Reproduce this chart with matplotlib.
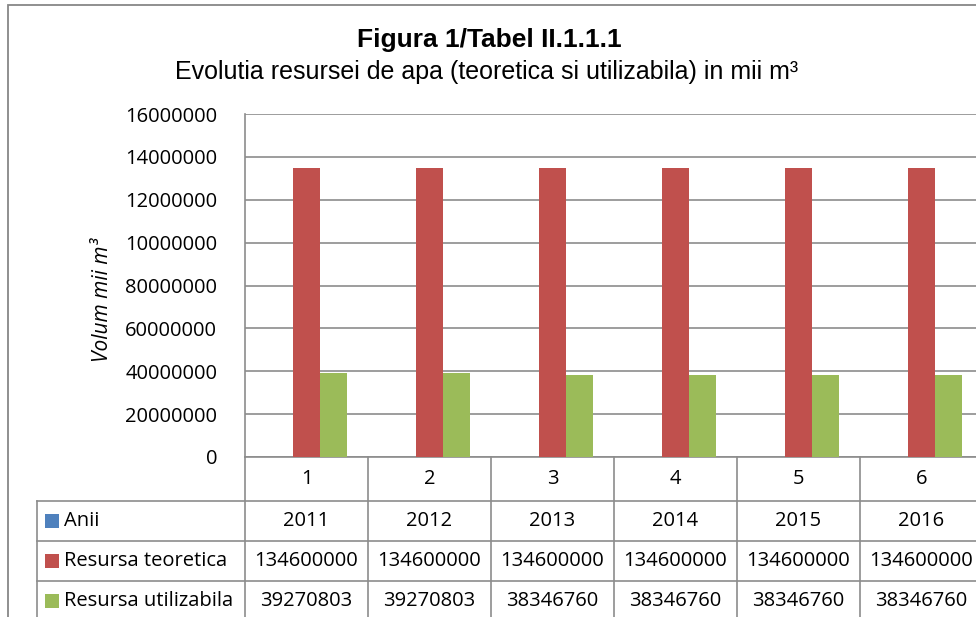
import matplotlib
matplotlib.use("Agg")
import matplotlib.pyplot as plt
import matplotlib.transforms as mtransforms
from matplotlib.lines import Line2D
from matplotlib.patches import Rectangle
import numpy as np

# ---- data ----
categories = ["1", "2", "3", "4", "5", "6"]
series_names = ["Anii", "Resursa teoretica", "Resursa utilizabila"]
anii = [2011, 2012, 2013, 2014, 2015, 2016]
resursa_teoretica = [134600000, 134600000, 134600000, 134600000, 134600000, 134600000]
resursa_utilizabila = [39270803, 39270803, 38346760, 38346760, 38346760, 38346760]
ytick_values = [0, 20000000, 40000000, 60000000, 80000000, 100000000, 120000000, 140000000, 160000000]
ytick_labels = ["0", "20000000", "40000000", "60000000", "80000000", "10000000", "12000000", "14000000", "16000000"]
colors = ["#4F81BD", "#C0504D", "#9BBB59"]

W, H = 976, 617
fig = plt.figure(figsize=(W / 100, H / 100), dpi=100)
fig.patch.set_facecolor("white")

def fx(x):
    return x / W

def fy(y):
    return 1 - y / H

FONT = "Open Sans"
GRID = "#8C8C8C"

# chart border
fig.add_artist(Rectangle((fx(8), fy(700)), fx(1100), fy(5) - fy(700), transform=fig.transFigure,
                         fill=False, edgecolor="#878787", linewidth=1.3))

# axes
left, right, top, bottom = 245, 983, 114, 457
ax = fig.add_axes([fx(left), fy(bottom), fx(right - left), fy(top) - fy(bottom)])
ax.set_xlim(-0.5, len(categories) - 0.5)
ax.set_ylim(0, 160000000)

series = [anii, resursa_teoretica, resursa_utilizabila]
x = np.arange(len(categories))
bw = 0.222
for k, (vals, col) in enumerate(zip(series, colors)):
    ax.bar(x + (k - 1) * bw, vals, width=bw, color=col, edgecolor="none", zorder=3)

ax.set_yticks(ytick_values)
ax.set_yticklabels(ytick_labels, fontfamily=FONT, fontsize=14.5)
ax.tick_params(axis="y", length=0, pad=20)
ax.set_xticks([])
ax.grid(axis="y", color=GRID, linewidth=1.2, zorder=0)
for s in ["top", "right"]:
    ax.spines[s].set_visible(False)
ax.spines["left"].set_color(GRID)
ax.spines["left"].set_linewidth(1.2)
ax.spines["bottom"].set_color(GRID)
ax.spines["bottom"].set_linewidth(1.2)
ax.set_facecolor("white")

# y label
fig.text(fx(102), fy(300), "Volum mii m³", rotation=90, ha="center", va="center",
         fontfamily=FONT, fontsize=15, style="italic")

# titles
fig.text(fx(489), fy(40), "Figura 1/Tabel II.1.1.1", ha="center", va="center",
         fontfamily="Liberation Sans", fontsize=19, fontweight="bold")
fig.text(fx(487), fy(72), "Evolutia resursei de apa (teoretica si utilizabila) in mii m³", ha="center", va="center",
         fontfamily="Liberation Sans", fontsize=18)

# data table
bt = mtransforms.blended_transform_factory(ax.transData, fig.transFigure)
row_edges = [457, 501, 541, 581, 621]

for y in row_edges[1:]:
    fig.add_artist(Line2D([fx(37), fx(right)], [fy(y), fy(y)], transform=fig.transFigure,
                          color=GRID, linewidth=1.2))
fig.add_artist(Line2D([fx(37), fx(37)], [fy(501), fy(640)], transform=fig.transFigure, color=GRID, linewidth=1.2))
for i in range(len(categories) + 1):
    xb = i - 0.5
    fig.add_artist(Line2D([xb, xb], [fy(457), fy(640)], transform=bt, color=GRID, linewidth=1.2, clip_on=False))

# category row
for i, c in enumerate(categories):
    fig.text(i, fy(479), c, transform=bt, ha="center", va="center", fontfamily=FONT, fontsize=14.5)

for r, (name, vals, col) in enumerate(zip(series_names, series, colors)):
    yc = (row_edges[r + 1] + row_edges[r + 2]) / 2
    fig.add_artist(Rectangle((fx(45), fy(yc + 7)), fx(14), fy(yc - 7) - fy(yc + 7), transform=fig.transFigure,
                             facecolor=col, edgecolor="none"))
    fig.text(fx(64), fy(yc), name, ha="left", va="center", fontfamily=FONT, fontsize=14.5)
    for i, v in enumerate(vals):
        fig.text(i, fy(yc), str(v), transform=bt, ha="center", va="center", fontfamily=FONT, fontsize=14.5)

fig.savefig("out.png", dpi=100, facecolor="white")
